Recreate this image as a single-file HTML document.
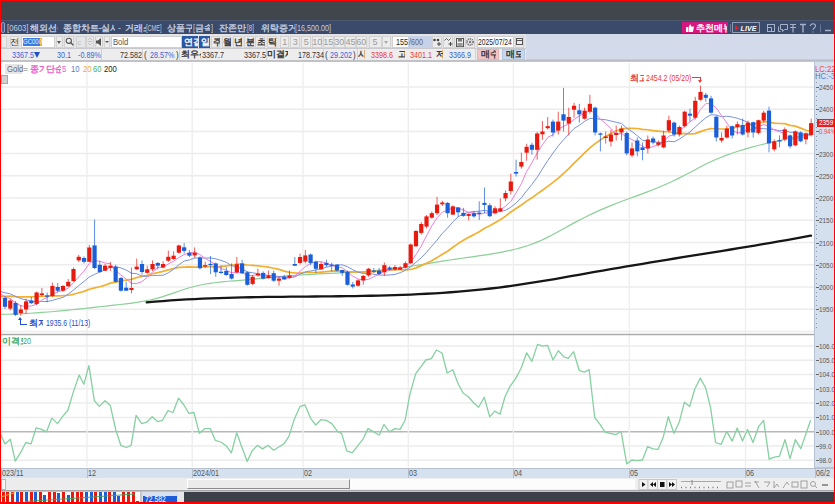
<!DOCTYPE html>
<html><head><meta charset="utf-8">
<style>
*{margin:0;padding:0;box-sizing:border-box}
html,body{width:835px;height:504px;overflow:hidden;background:#fff}
body{position:relative;font-family:"Liberation Sans",sans-serif;font-size:9px;color:#222}
.a{position:absolute}
.t{position:absolute;white-space:nowrap;line-height:1;transform-origin:0 0}
.k{position:absolute;white-space:nowrap;line-height:1;overflow:hidden;height:10px;-webkit-text-stroke:0.35px currentColor}
</style></head><body>
<div class="a" style="left:0px;top:0px;width:835px;height:20px;background:#41454c;"></div>
<div class="a" style="left:0px;top:20px;width:835px;height:14px;background:#3a4a6a;"></div>
<div class="a" style="left:0px;top:20px;width:835px;height:1px;background:#4c5872;"></div>
<div class="a" style="left:1px;top:22px;width:4px;height:11px;background:#4c5c84;border:1px solid #8ea4cc;border-radius:2px"></div>
<div class="t" style="left:6.5px;top:24px;font-size:9px;color:#c5cee0;transform:scaleX(0.85);">[0603]</div>
<div class="k" style="left:29.5px;top:23.5px;width:28.5px;font-size:9px;color:#c5cee0;">해외선물</div>
<div class="k" style="left:62.5px;top:23.5px;width:52px;font-size:9px;color:#c5cee0;">종합차트-실시간</div>
<div class="t" style="left:117.9px;top:24px;font-size:9px;color:#c5cee0;">-</div>
<div class="k" style="left:125px;top:23.5px;width:20.5px;font-size:9px;color:#c5cee0;">거래소</div>
<div class="t" style="left:145.5px;top:24px;font-size:9px;color:#c5cee0;transform:scaleX(0.62);">[CME]</div>
<div class="k" style="left:166.7px;top:23.5px;width:25.5px;font-size:9px;color:#c5cee0;">상품구분</div>
<div class="t" style="left:192.6px;top:24px;font-size:9px;color:#c5cee0;transform:scaleX(0.8);">[</div>
<div class="k" style="left:195px;top:23.5px;width:14.5px;font-size:9px;color:#c5cee0;">금속</div>
<div class="t" style="left:210.5px;top:24px;font-size:9px;color:#c5cee0;transform:scaleX(0.8);">]</div>
<div class="k" style="left:218.6px;top:23.5px;width:28.5px;font-size:9px;color:#c5cee0;">잔존만기</div>
<div class="t" style="left:247.4px;top:24px;font-size:9px;color:#c5cee0;transform:scaleX(0.7);">[8]</div>
<div class="k" style="left:261.4px;top:23.5px;width:33.5px;font-size:9px;color:#c5cee0;">위탁증거금</div>
<div class="t" style="left:294.9px;top:24px;font-size:9px;color:#c5cee0;transform:scaleX(0.8);">[16,500.00]</div>
<div class="a" style="left:682px;top:22px;width:46px;height:11px;background:#d6187e;"></div>
<svg class="a" style="left:686px;top:24px" width="8" height="8" viewBox="0 0 8 8"><path d="M0 3h2v5H0zM2.5 3.5L4 0.5c1 0 1.2 0.8 1 2H7.5c0.5 0 0.6 0.6 0.4 1L7 7.5c-0.2 0.4-0.5 0.5-1 0.5H2.5z" fill="#fff"/></svg>
<div class="k" style="left:696px;top:23.5px;width:31px;font-size:8.5px;color:#fff;">추천메뉴</div>
<div class="a" style="left:729.5px;top:24px;width:1px;height:8px;background:#6a7898;"></div>
<div class="a" style="left:732px;top:22px;width:28px;height:10.5px;background:transparent;border:1px solid #8e9ab2"></div>
<div class="a" style="left:735px;top:24.5px;width:0;height:0;border-left:4px solid #e82020;border-top:3px solid transparent;border-bottom:3px solid transparent"></div>
<div class="t" style="left:740.5px;top:24.6px;font-size:7px;color:#fff;font-weight:bold;font-style:italic;letter-spacing:0.1px">LIVE</div>
<svg class="a" style="left:765px;top:22px" width="70" height="12" viewBox="0 0 70 12"><rect x="2.5" y="2.5" width="7" height="7" fill="none" stroke="#a6b0c6"/><path d="M2.5 5.5h4v4" fill="none" stroke="#a6b0c6"/><path d="M15.5 2.5h7v5h-3l-2 2v-2h-2z" fill="none" stroke="#a6b0c6"/><path d="M13.5 4.5v5h2" fill="none" stroke="#a6b0c6"/><path d="M25 2.5h6M25 5.5h6M28 2.5v8" stroke="#a6b0c6" stroke-width="1.2"/><path d="M35 2.5h6M38 2.5v8" stroke="#a6b0c6" stroke-width="1.4"/><path d="M45.5 4c0-3 5-3 5 0c0 2-2.5 2-2.5 4M48 9.5v1" fill="none" stroke="#a6b0c6" stroke-width="1.1"/><path d="M55.5 2.5v8" stroke="#6a7898"/><path d="M60 8.5h6" stroke="#a6b0c6" stroke-width="1.5"/></svg>
<div class="a" style="left:0px;top:34.3px;width:835px;height:28px;background:#e4e4e7;"></div>
<div class="a" style="left:525.5px;top:34.3px;width:309.5px;height:28px;background:#d3daea;"></div>
<div class="a" style="left:0px;top:47.5px;width:525.5px;height:1.8px;background:#c9c9cd;"></div>
<div class="a" style="left:0px;top:60px;width:835px;height:2.5px;background:#c2c2c6;"></div>
<div class="a" style="left:525px;top:59px;width:310px;height:1px;background:#c8ccd5;"></div>
<div class="a" style="left:525px;top:60px;width:310px;height:1px;background:#b6bbc6;"></div>
<div class="a" style="left:525px;top:61px;width:310px;height:1px;background:#c4c8d0;"></div>
<div class="a" style="left:1px;top:35.5px;width:5.5px;height:12px;background:#ececec;border:1px solid #d2d2d2"></div>
<div class="a" style="left:10px;top:35.5px;width:9px;height:12px;background:#ececec;border:1px solid #d2d2d2"></div>
<div class="t" style="left:10px;top:37.5px;width:9px;font-size:8.5px;color:#333;text-align:center">전</div>
<div class="a" style="left:21px;top:35.5px;width:33.5px;height:12px;background:#fff;border:1px solid #cfcfcf"></div>
<div class="a" style="left:22.5px;top:38px;width:17.5px;height:7.5px;background:#3a7be0;"></div>
<div class="a" style="left:40px;top:38px;width:1.5px;height:7.5px;background:#f0b020;"></div>
<div class="t" style="left:23px;top:38px;font-size:7.5px;color:#e8f0ff;transform:scaleX(0.8);">GC000</div>
<div class="a" style="left:55.5px;top:35.5px;width:7.5px;height:12px;background:#ececec;border:1px solid #d2d2d2"></div>
<div class="a" style="left:57px;top:40.5px;width:0;height:0;border-top:3px solid #555;border-left:2.25px solid transparent;border-right:2.25px solid transparent"></div>
<div class="a" style="left:64px;top:35.5px;width:10px;height:12px;background:#ececec;border:1px solid #d2d2d2"></div>
<svg class="a" style="left:65px;top:37px" width="9" height="9" viewBox="0 0 9 9"><circle cx="3.8" cy="3.8" r="2.6" fill="none" stroke="#555" stroke-width="1.1"/><path d="M5.6 5.6L8.3 8.3" stroke="#555" stroke-width="1.4"/></svg>
<div class="a" style="left:75.5px;top:35.5px;width:10px;height:12px;background:#e6e6e6;border:1px solid #d2d2d2"></div>
<div class="t" style="left:77.5px;top:38.5px;font-size:7px;color:#bbb;">c</div>
<div class="a" style="left:86px;top:35.5px;width:8px;height:12px;background:#e6e6e6;border:1px solid #d2d2d2"></div>
<svg class="a" style="left:87px;top:37px" width="6" height="9" viewBox="0 0 6 9"><path d="M1 3l2-2 2 2M1 6l2 2 2-2M0.5 4.5h5" fill="none" stroke="#bbb" stroke-width="0.8"/></svg>
<div class="a" style="left:94.5px;top:35.5px;width:8.5px;height:12px;background:#ececec;border:1px solid #d2d2d2"></div>
<svg class="a" style="left:95.5px;top:37.5px" width="7" height="8" viewBox="0 0 7 8"><path d="M0 2.5h2l3-2.5v8l-3-2.5H0z" fill="#555"/></svg>
<div class="a" style="left:104px;top:35.5px;width:6px;height:12px;background:#ececec;border:1px solid #d2d2d2"></div>
<div class="a" style="left:105px;top:40.5px;width:0;height:0;border-top:2.5px solid #555;border-left:2.0px solid transparent;border-right:2.0px solid transparent"></div>
<div class="a" style="left:110.5px;top:35.5px;width:71px;height:12px;background:#fff;border:1px solid #cfcfcf"></div>
<div class="t" style="left:112.5px;top:38px;font-size:8.5px;color:#555;transform:scaleX(0.9);">Bold</div>
<div class="a" style="left:181.8px;top:35.5px;width:16.5px;height:12px;background:#2b56a3;"></div>
<div class="k" style="left:183.5px;top:37.5px;width:14px;font-size:8.5px;color:#fff;">연결</div>
<div class="a" style="left:199px;top:35.5px;width:11.3px;height:12px;background:#2b56a3;"></div>
<div class="k" style="left:200.5px;top:37.5px;width:9px;font-size:8.5px;color:#fff;">일</div>
<div class="a" style="left:211.3px;top:35.5px;width:9px;height:12px;background:#ececec;border:1px solid #d2d2d2"></div>
<div class="k" style="left:212.8px;top:37.5px;width:7px;font-size:8.5px;color:#333;">주</div>
<div class="a" style="left:221.5px;top:35.5px;width:9.5px;height:12px;background:#ececec;border:1px solid #d2d2d2"></div>
<div class="k" style="left:223px;top:37.5px;width:7.5px;font-size:8.5px;color:#333;">월</div>
<div class="a" style="left:232.9px;top:35.5px;width:9.5px;height:12px;background:#ececec;border:1px solid #d2d2d2"></div>
<div class="k" style="left:234.4px;top:37.5px;width:7.5px;font-size:8.5px;color:#333;">년</div>
<div class="a" style="left:244.4px;top:35.5px;width:10px;height:12px;background:#ececec;border:1px solid #d2d2d2"></div>
<div class="k" style="left:245.9px;top:37.5px;width:8px;font-size:8.5px;color:#333;">분</div>
<div class="a" style="left:255.2px;top:35.5px;width:10px;height:12px;background:#ececec;border:1px solid #d2d2d2"></div>
<div class="k" style="left:256.7px;top:37.5px;width:8px;font-size:8.5px;color:#333;">초</div>
<div class="a" style="left:266.7px;top:35.5px;width:10px;height:12px;background:#ececec;border:1px solid #d2d2d2"></div>
<div class="k" style="left:268.2px;top:37.5px;width:8px;font-size:8.5px;color:#333;">틱</div>
<div class="a" style="left:280px;top:35.5px;width:9.3px;height:12px;background:#ececec;border:1px solid #d2d2d2"></div>
<div class="t" style="left:280px;top:37.5px;width:9.3px;font-size:9px;color:#9a9a9a;text-align:center">1</div>
<div class="a" style="left:290.4px;top:35.5px;width:9.5px;height:12px;background:#ececec;border:1px solid #d2d2d2"></div>
<div class="t" style="left:290.4px;top:37.5px;width:9.5px;font-size:9px;color:#9a9a9a;text-align:center">3</div>
<div class="a" style="left:301.2px;top:35.5px;width:10px;height:12px;background:#ececec;border:1px solid #d2d2d2"></div>
<div class="t" style="left:301.2px;top:37.5px;width:10px;font-size:9px;color:#9a9a9a;text-align:center">5</div>
<div class="a" style="left:312.2px;top:35.5px;width:10.3px;height:12px;background:#ececec;border:1px solid #d2d2d2"></div>
<div class="t" style="left:312.2px;top:37.5px;width:10.3px;font-size:9px;color:#9a9a9a;text-align:center">10</div>
<div class="a" style="left:323px;top:35.5px;width:10.5px;height:12px;background:#ececec;border:1px solid #d2d2d2"></div>
<div class="t" style="left:323px;top:37.5px;width:10.5px;font-size:9px;color:#9a9a9a;text-align:center">15</div>
<div class="a" style="left:334px;top:35.5px;width:10.5px;height:12px;background:#ececec;border:1px solid #d2d2d2"></div>
<div class="t" style="left:334px;top:37.5px;width:10.5px;font-size:9px;color:#9a9a9a;text-align:center">30</div>
<div class="a" style="left:345.4px;top:35.5px;width:10.3px;height:12px;background:#ececec;border:1px solid #d2d2d2"></div>
<div class="t" style="left:345.4px;top:37.5px;width:10.3px;font-size:9px;color:#9a9a9a;text-align:center">45</div>
<div class="a" style="left:356px;top:35.5px;width:10.5px;height:12px;background:#ececec;border:1px solid #d2d2d2"></div>
<div class="t" style="left:356px;top:37.5px;width:10.5px;font-size:9px;color:#9a9a9a;text-align:center">60</div>
<div class="a" style="left:368.5px;top:35.5px;width:13px;height:12px;background:#ececec;border:1px solid #d2d2d2"></div>
<div class="t" style="left:368.5px;top:37.5px;width:13px;font-size:9px;color:#9a9a9a;text-align:center">5</div>
<div class="a" style="left:382px;top:35.5px;width:8.5px;height:12px;background:#ececec;border:1px solid #d2d2d2"></div>
<div class="a" style="left:384px;top:40.5px;width:0;height:0;border-top:3px solid #aaa;border-left:2.25px solid transparent;border-right:2.25px solid transparent"></div>
<div class="a" style="left:391.5px;top:35.5px;width:17px;height:12px;background:#fff;border:1px solid #cfcfcf"></div>
<div class="t" style="left:396px;top:37.6px;font-size:9px;color:#222;transform:scaleX(0.8);">155</div>
<div class="a" style="left:408.3px;top:35.5px;width:23.3px;height:12px;background:#c6d2e8;"></div>
<div class="t" style="left:409px;top:37.6px;font-size:9px;color:#666;transform:scaleX(0.8);">/600</div>
<div class="a" style="left:432px;top:35.5px;width:9.5px;height:12px;background:#ececec;border:1px solid #d2d2d2"></div>
<svg class="a" style="left:433px;top:37px" width="8" height="9" viewBox="0 0 8 9"><circle cx="1.5" cy="3" r="1.3" fill="#444"/><circle cx="5" cy="3" r="1.3" fill="#444"/><path d="M6 5v4M4 7h4" stroke="#444" stroke-width="1"/></svg>
<div class="a" style="left:442.7px;top:35.5px;width:10px;height:12px;background:#ececec;border:1px solid #d2d2d2"></div>
<svg class="a" style="left:443.5px;top:37px" width="9" height="9" viewBox="0 0 9 9"><path d="M0.5 3.5l2-2 2 2 2-2" fill="none" stroke="#555" stroke-width="0.9"/><path d="M6.5 5v4M4.5 7h4" stroke="#444" stroke-width="1"/></svg>
<div class="a" style="left:454px;top:35.5px;width:10px;height:12px;background:#ececec;border:1px solid #d2d2d2"></div>
<svg class="a" style="left:455.5px;top:37.5px" width="8" height="9" viewBox="0 0 8 9"><rect x="0.5" y="0.5" width="7" height="8" fill="none" stroke="#555"/><rect x="2" y="0.5" width="4" height="3" fill="#777"/><rect x="1.5" y="5" width="5" height="3.5" fill="#999"/></svg>
<div class="a" style="left:465px;top:35.5px;width:10px;height:12px;background:#ececec;border:1px solid #d2d2d2"></div>
<svg class="a" style="left:466px;top:37.5px" width="8" height="8" viewBox="0 0 8 8"><circle cx="4" cy="4" r="3.1" fill="none" stroke="#777" stroke-width="1.8" stroke-dasharray="1.2 0.8"/><circle cx="4" cy="4" r="1.2" fill="#777"/></svg>
<div class="a" style="left:476.6px;top:35.5px;width:37.6px;height:12px;background:#fff;border:1px solid #cfcfcf"></div>
<div class="t" style="left:477.5px;top:37.6px;font-size:9px;color:#222;transform:scaleX(0.75);">2025/07/24</div>
<div class="a" style="left:514.6px;top:35.5px;width:9.5px;height:12px;background:#ececec;border:1px solid #d2d2d2"></div>
<svg class="a" style="left:516px;top:38px" width="7" height="7" viewBox="0 0 7 7"><rect x="0.5" y="0.5" width="6" height="6" fill="none" stroke="#555"/><path d="M0.5 2.5h6" stroke="#555"/></svg>
<div class="a" style="left:0px;top:49.3px;width:525.5px;height:10.7px;background:#ededee;"></div>
<div class="a" style="left:101.4px;top:49.3px;width:1px;height:10.7px;background:#d2d2d4;"></div>
<div class="a" style="left:142px;top:49.3px;width:1px;height:10.7px;background:#d2d2d4;"></div>
<div class="a" style="left:178.8px;top:49.3px;width:1px;height:10.7px;background:#d2d2d4;"></div>
<div class="a" style="left:266px;top:49.3px;width:1px;height:10.7px;background:#d2d2d4;"></div>
<div class="a" style="left:322.6px;top:49.3px;width:1px;height:10.7px;background:#d2d2d4;"></div>
<div class="a" style="left:356.7px;top:49.3px;width:1px;height:10.7px;background:#d2d2d4;"></div>
<div class="a" style="left:475px;top:49.3px;width:1px;height:10.7px;background:#d2d2d4;"></div>
<div class="t" style="left:11.5px;top:50.8px;font-size:9px;color:#3a64d2;transform:scaleX(0.8);">3367.5</div>
<div class="a" style="left:33.5px;top:52px;width:0;height:0;border-top:6px solid #2050c8;border-left:3px solid transparent;border-right:3px solid transparent"></div>
<div class="t" style="left:57px;top:50.8px;font-size:9px;color:#3a64d2;transform:scaleX(0.8);">30.1</div>
<div class="t" style="left:78.3px;top:50.8px;font-size:9px;color:#3a64d2;transform:scaleX(0.8);">-0.89%</div>
<div class="t" style="left:120px;top:50.8px;font-size:9px;color:#333;transform:scaleX(0.8);">72.582</div>
<div class="t" style="left:144px;top:50.8px;font-size:9px;color:#333;transform:scaleX(0.9);">(</div>
<div class="t" style="left:150.2px;top:50.8px;font-size:9px;color:#3a64d2;transform:scaleX(0.8);">28.57%</div>
<div class="t" style="left:175.5px;top:50.8px;font-size:9px;color:#333;transform:scaleX(0.9);">)</div>
<div class="k" style="left:180.5px;top:50.3px;width:20.5px;font-size:8.5px;color:#333;">최우선</div>
<div class="t" style="left:202px;top:50.8px;font-size:9px;color:#333;transform:scaleX(0.8);">3367.7</div>
<div class="t" style="left:243.7px;top:50.8px;font-size:9px;color:#333;transform:scaleX(0.8);">3367.5</div>
<div class="k" style="left:267.4px;top:50.3px;width:21px;font-size:8.5px;color:#333;">미결제</div>
<div class="t" style="left:297.6px;top:50.8px;font-size:9px;color:#333;transform:scaleX(0.8);">178.734</div>
<div class="t" style="left:324.5px;top:50.8px;font-size:9px;color:#333;transform:scaleX(0.9);">(</div>
<div class="t" style="left:330px;top:50.8px;font-size:9px;color:#3a64d2;transform:scaleX(0.8);">29.202</div>
<div class="t" style="left:352.5px;top:50.8px;font-size:9px;color:#333;transform:scaleX(0.9);">)</div>
<div class="k" style="left:358px;top:50.3px;width:7px;font-size:8.5px;color:#333;">시</div>
<div class="t" style="left:370.9px;top:50.8px;font-size:9px;color:#e83a3a;transform:scaleX(0.8);">3398.6</div>
<div class="k" style="left:397.5px;top:50.3px;width:7px;font-size:8.5px;color:#333;">고</div>
<div class="t" style="left:410.4px;top:50.8px;font-size:9px;color:#e83a3a;transform:scaleX(0.8);">3401.1</div>
<div class="k" style="left:436.3px;top:50.3px;width:7px;font-size:8.5px;color:#333;">저</div>
<div class="t" style="left:449.2px;top:50.8px;font-size:9px;color:#3a64d2;transform:scaleX(0.8);">3366.9</div>
<div class="a" style="left:477.3px;top:49.3px;width:22.2px;height:10.7px;background:#f3c4c4;border:1px solid #e6b4b4"></div>
<div class="k" style="left:481px;top:50.3px;width:15px;font-size:8.5px;color:#333;">매수</div>
<div class="a" style="left:501.7px;top:49.3px;width:23px;height:10.7px;background:#c5d7f1;border:1px solid #b2c6e2"></div>
<div class="k" style="left:505.5px;top:50.3px;width:15px;font-size:8.5px;color:#333;">매도</div>
<div class="a" style="left:0px;top:62px;width:814px;height:406px;background:#fff;"></div>
<div class="a" style="left:814px;top:62px;width:21px;height:406px;background:#d5e0ef;"></div>
<div class="a" style="left:814px;top:62px;width:1px;height:406px;background:#b6c2d4;"></div>
<svg class="a" style="left:0;top:0" width="835" height="504" viewBox="0 0 835 504"><path d="M1 86.9H814" stroke="#ececec" stroke-width="1.5"/><path d="M1 109.14H814" stroke="#ececec" stroke-width="1.5"/><path d="M1 131.38H814" stroke="#ececec" stroke-width="1.5"/><path d="M1 153.62H814" stroke="#ececec" stroke-width="1.5"/><path d="M1 175.86H814" stroke="#ececec" stroke-width="1.5"/><path d="M1 198.1H814" stroke="#ececec" stroke-width="1.5"/><path d="M1 220.34H814" stroke="#ececec" stroke-width="1.5"/><path d="M1 242.58H814" stroke="#ececec" stroke-width="1.5"/><path d="M1 264.82H814" stroke="#ececec" stroke-width="1.5"/><path d="M1 287.06H814" stroke="#ececec" stroke-width="1.5"/><path d="M1 309.3H814" stroke="#ececec" stroke-width="1.5"/><path d="M1 331.54H814" stroke="#ececec" stroke-width="1.5"/><path d="M1 460.3H814" stroke="#ececec" stroke-width="1.5"/><path d="M1 446H814" stroke="#ececec" stroke-width="1.5"/><path d="M1 431.7H814" stroke="#b8b8b8" stroke-width="1.6"/><path d="M1 417.4H814" stroke="#ececec" stroke-width="1.5"/><path d="M1 403.1H814" stroke="#ececec" stroke-width="1.5"/><path d="M1 388.8H814" stroke="#ececec" stroke-width="1.5"/><path d="M1 374.5H814" stroke="#ececec" stroke-width="1.5"/><path d="M1 360.2H814" stroke="#ececec" stroke-width="1.5"/><path d="M1 345.9H814" stroke="#ececec" stroke-width="1.5"/><path d="M86.95 63V467" stroke="#eeeeee" stroke-width="1.4"/><path d="M192.2 63V467" stroke="#eeeeee" stroke-width="1.4"/><path d="M303 63V467" stroke="#eeeeee" stroke-width="1.4"/><path d="M408.3 63V467" stroke="#eeeeee" stroke-width="1.4"/><path d="M513.4 63V467" stroke="#eeeeee" stroke-width="1.4"/><path d="M629.4 63V467" stroke="#eeeeee" stroke-width="1.4"/><path d="M745.5 63V467" stroke="#eeeeee" stroke-width="1.4"/><path d="M1 334.5H814" stroke="#ababab" stroke-width="1.3"/><polyline points="0,314.35 6,314.26 12,314.1 18,313.88 24,313.61 30,313.27 36,312.89 42,312.46 48,311.99 54,311.48 60,310.94 66,310.36 72,309.76 78,309.14 84,308.5 90,307.84 96,307.17 102,306.5 108,305.82 114,305.15 120,304.48 126,303.79 132,303.04 138,302.18 144,301.18 150,300 156,298.57 162,296.88 168,294.94 174,292.87 180,290.78 186,288.79 192,287 198,285.51 204,284.28 210,283.29 216,282.48 222,281.82 228,281.27 234,280.78 240,280.31 246,279.82 252,279.28 258,278.72 264,278.14 270,277.56 276,276.98 282,276.42 288,275.9 294,275.43 300,275.01 306,274.63 312,274.29 318,273.97 324,273.67 330,273.38 336,273.09 342,272.8 348,272.48 354,272.15 360,271.77 366,271.36 372,270.89 378,270.36 384,269.77 390,269.09 396,268.34 402,267.53 408,266.65 414,265.74 420,264.79 426,263.83 432,262.85 438,261.88 444,260.93 450,260 456,259.11 462,258.25 468,257.41 474,256.56 480,255.69 486,254.79 492,253.82 498,252.79 504,251.66 510,250.42 516,249 522,247.39 528,245.53 534,243.39 540,240.93 546,238.13 552,235.05 558,231.8 564,228.46 570,225.12 576,221.87 582,218.74 588,215.74 594,212.88 600,210.16 606,207.58 612,205.13 618,202.79 624,200.52 630,198.29 636,196.09 642,193.86 648,191.59 654,189.25 660,186.8 666,184.22 672,181.48 678,178.59 684,175.57 690,172.44 696,169.25 702,166.09 708,163.06 714,160.26 720,157.7 726,155.36 732,153.2 738,151.2 744,149.35 750,147.63 756,146.03 762,144.53 768,143.11 774,141.75 780,140.44 786,139.16 792,137.9 798,136.64 804,135.36 810,134.04 811,133.82" fill="none" stroke="#8ccf98" stroke-width="1.2"/><polyline points="146.7,302.37 154.7,301.67 162.7,301.03 170.7,300.46 178.7,299.94 186.7,299.47 194.7,299.05 202.7,298.68 210.7,298.35 218.7,298.06 226.7,297.8 234.7,297.58 242.7,297.39 250.7,297.23 258.7,297.09 266.7,296.97 274.7,296.87 282.7,296.78 290.7,296.7 298.7,296.63 306.7,296.56 314.7,296.49 322.7,296.42 330.7,296.35 338.7,296.26 346.7,296.16 354.7,296.05 362.7,295.91 370.7,295.76 378.7,295.58 386.7,295.37 394.7,295.12 402.7,294.85 410.7,294.53 418.7,294.17 426.7,293.76 434.7,293.31 442.7,292.8 450.7,292.24 458.7,291.62 466.7,290.94 474.7,290.2 482.7,289.38 490.7,288.5 498.7,287.54 506.7,286.5 514.7,285.39 522.7,284.21 530.7,282.98 538.7,281.7 546.7,280.38 554.7,279.02 562.7,277.64 570.7,276.23 578.7,274.81 586.7,273.39 594.7,271.98 602.7,270.57 610.7,269.18 618.7,267.8 626.7,266.44 634.7,265.09 642.7,263.76 650.7,262.43 658.7,261.12 666.7,259.81 674.7,258.51 682.7,257.22 690.7,255.94 698.7,254.65 706.7,253.37 714.7,252.08 722.7,250.79 730.7,249.49 738.7,248.18 746.7,246.86 754.7,245.53 762.7,244.19 770.7,242.83 778.7,241.44 786.7,240.04 794.7,238.61 802.7,237.16 810.7,235.68 811,235.62" fill="none" stroke="#161616" stroke-width="2.3" stroke-linecap="round" stroke-linejoin="round"/><polyline points="-0.27,296.38 5,296.43 10.27,296.17 15.54,296.65 20.81,296.91 26.08,296.81 31.34,296.88 36.61,296.49 41.88,296.25 47.15,296.27 52.42,295.88 57.69,295.83 62.96,295.62 68.23,295.25 73.5,294.29 78.77,292.74 84.03,291.39 89.3,289.21 94.57,287.92 99.84,286.75 105.11,285.19 110.38,283.13 115.65,282.2 120.92,281 126.19,280.05 131.46,279.38 136.72,277.56 141.99,276.53 147.26,275.32 152.53,273.71 157.8,272.69 163.07,271.35 168.34,269.89 173.61,268.59 178.88,267.42 184.15,267.12 189.41,266.81 194.68,267.07 199.95,267.08 205.22,266.75 210.49,266.71 215.76,267.04 221.03,266.59 226.3,265.81 231.57,265.21 236.84,264.02 242.11,264.35 247.37,264.99 252.64,265.37 257.91,265.84 263.18,266.49 268.45,267.06 273.72,268.26 278.99,269.41 284.26,271.11 289.53,272.33 294.8,272.83 300.06,273.05 305.33,272.41 310.6,272.29 315.87,272.48 321.14,272.07 326.41,271.68 331.68,271.22 336.95,270.81 342.22,271.24 347.49,271.82 352.75,271.91 358.02,272.09 363.29,272.21 368.56,271.72 373.83,271.53 379.1,271.19 384.37,270.52 389.64,270.03 394.91,269.61 400.18,269.69 405.44,270 410.71,269.46 415.98,267.87 421.25,265.63 426.52,263.25 431.79,260.65 437.06,257.59 442.33,254.19 447.6,251.21 452.87,247.29 458.13,243.57 463.4,240.35 468.67,237.25 473.94,234.63 479.21,231.72 484.48,228.27 489.75,225.81 495.02,222.75 500.29,219.81 505.56,216.09 510.82,212.01 516.09,208.46 521.36,205.01 526.63,201.15 531.9,197.82 537.17,193.83 542.44,190.18 547.71,186.37 552.98,182.33 558.25,178.09 563.51,173.5 568.78,168.56 574.05,163.15 579.32,158.04 584.59,152.9 589.86,147.85 595.13,143.66 600.4,139.98 605.67,136.39 610.94,133.46 616.2,131.04 621.47,128.79 626.74,128.36 632.01,128.44 637.28,128.52 642.55,129.34 647.82,129.74 653.09,130.56 658.36,131.06 663.62,131.75 668.89,131.73 674.16,132.61 679.43,133.67 684.7,133.54 689.97,133.79 695.24,133.64 700.51,131.61 705.78,129.77 711.05,128.58 716.32,128.73 721.58,128.98 726.85,128.98 732.12,128.08 737.39,126.87 742.66,126.03 747.93,124.66 753.2,124.31 758.47,123.2 763.74,121.7 769,122.09 774.27,123.15 779.54,123.49 784.81,123.61 790.08,125.34 795.35,126.12 800.62,128.15 805.89,130.22 811.16,131.49" fill="none" stroke="#f2b030" stroke-width="1.7" stroke-linejoin="round"/><polyline points="-0.27,291.32 5,292.82 10.27,293.84 15.54,296.42 20.81,298.55 26.08,299.89 31.34,301.33 36.61,301.48 41.88,301.44 47.15,301.53 52.42,300.45 57.69,298.84 62.96,297.39 68.23,294.09 73.5,290.04 78.77,285.58 84.03,281.44 89.3,276.94 94.57,274.4 99.84,271.96 105.11,269.93 110.38,267.43 115.65,267.01 120.92,267.9 126.19,270.07 131.46,273.19 136.72,273.67 141.99,276.12 147.26,276.25 152.53,275.45 157.8,275.45 163.07,275.28 168.34,272.78 173.61,269.28 178.88,264.76 184.15,261.05 189.41,259.96 194.68,258.03 199.95,257.92 205.22,258.04 210.49,257.97 215.76,258.8 221.03,260.41 226.3,262.34 231.57,265.65 236.84,266.99 242.11,268.74 247.37,271.95 252.64,272.81 257.91,273.65 263.18,275.01 268.45,275.33 273.72,276.11 278.99,276.47 284.26,276.56 289.53,277.68 294.8,276.93 300.06,274.15 305.33,272.01 310.6,270.94 315.87,269.96 321.14,268.81 326.41,267.25 331.68,265.97 336.95,265.06 342.22,264.81 347.49,266.72 352.75,269.68 358.02,272.18 363.29,273.48 368.56,273.48 373.83,274.25 379.1,275.13 384.37,275.08 389.64,275 394.91,274.41 400.18,272.68 405.44,270.33 410.71,266.75 415.98,262.25 421.25,257.78 426.52,252.24 431.79,246.16 437.06,240.1 442.33,233.39 447.6,228.01 452.87,221.9 458.13,216.81 463.4,213.95 468.67,212.25 473.94,211.49 479.21,211.2 484.48,210.37 489.75,211.53 495.02,212.11 500.29,211.62 505.56,210.28 510.82,207.2 516.09,202.97 521.36,197.77 526.63,190.81 531.9,184.44 537.17,177.3 542.44,168.83 547.71,160.62 552.98,153.04 558.25,145.9 563.51,139.81 568.78,134.15 574.05,128.53 579.32,125.28 584.59,121.37 589.86,118.4 595.13,118.5 600.4,119.33 605.67,119.73 610.94,121.03 616.2,122.27 621.47,123.42 626.74,128.19 632.01,131.6 637.28,135.67 642.55,140.29 647.82,140.99 653.09,141.78 658.36,142.38 663.62,142.48 668.89,141.2 674.16,141.79 679.43,139.15 684.7,135.48 689.97,131.91 695.24,126.99 700.51,122.23 705.78,117.76 711.05,114.78 716.32,114.98 721.58,116.76 726.85,116.17 732.12,117.02 737.39,118.27 742.66,120.15 747.93,122.33 753.2,126.39 758.47,128.63 763.74,128.63 769,129.21 774.27,129.54 779.54,130.81 784.81,130.2 790.08,132.41 795.35,132.1 800.62,133.97 805.89,134.06 811.16,134.35" fill="none" stroke="#7a92e0" stroke-width="1" stroke-linejoin="round"/><polyline points="-0.27,293.18 5,296.78 10.27,298.68 15.54,302.88 20.81,305.68 26.08,306.6 31.34,305.88 36.61,304.28 41.88,300 47.15,297.38 52.42,294.3 57.69,291.8 62.96,290.5 68.23,288.18 73.5,282.7 78.77,276.86 84.03,271.08 89.3,263.38 94.57,260.62 99.84,261.22 105.11,263 110.38,263.78 115.65,270.64 120.92,275.18 126.19,278.92 131.46,283.38 136.72,283.56 141.99,281.6 147.26,277.32 152.53,271.98 157.8,267.52 163.07,267 168.34,263.96 173.61,261.24 178.88,257.54 184.15,254.58 189.41,252.92 194.68,252.1 199.95,254.6 205.22,258.54 210.49,261.36 215.76,264.68 221.03,268.72 226.3,270.08 231.57,272.76 236.84,272.62 242.11,272.8 247.37,275.18 252.64,275.54 257.91,274.54 263.18,277.4 268.45,277.86 273.72,277.04 278.99,277.4 284.26,278.58 289.53,277.96 294.8,276 300.06,271.26 305.33,266.62 310.6,263.3 315.87,261.95 321.14,261.61 326.41,263.25 331.68,265.31 336.95,266.83 342.22,267.66 347.49,271.82 352.75,276.1 358.02,279.04 363.29,280.12 368.56,279.29 373.83,276.69 379.1,274.17 384.37,271.13 389.64,269.87 394.91,269.52 400.18,268.66 405.44,266.5 410.71,262.36 415.98,254.64 421.25,246.04 426.52,235.82 431.79,225.82 437.06,217.84 442.33,212.14 447.6,209.98 452.87,207.98 458.13,207.8 463.4,210.06 468.67,212.36 473.94,213 479.21,214.42 484.48,212.94 489.75,213 495.02,211.86 500.29,210.24 505.56,206.14 510.82,201.46 516.09,192.94 521.36,183.68 526.63,171.38 531.9,162.74 537.17,153.14 542.44,144.72 547.71,137.56 552.98,134.7 558.25,129.06 563.51,126.48 568.78,123.58 574.05,119.49 579.32,115.85 584.59,113.67 589.86,110.31 595.13,113.41 600.4,119.18 605.67,123.62 610.94,128.38 616.2,134.22 621.47,133.44 626.74,137.2 632.01,139.58 637.28,142.96 642.55,146.36 647.82,148.54 653.09,146.36 658.36,145.18 663.62,142 668.89,136.04 674.16,135.04 679.43,131.94 684.7,125.78 689.97,121.82 695.24,117.94 700.51,109.42 705.78,103.58 711.05,103.78 716.32,108.14 721.58,115.58 726.85,122.92 732.12,130.46 737.39,132.76 742.66,132.16 747.93,129.08 753.2,129.86 758.47,126.8 763.74,124.5 769,126.26 774.27,130 779.54,131.76 784.81,133.6 790.08,140.32 795.35,137.94 800.62,137.94 805.89,136.36 811.16,135.1" fill="none" stroke="#f07ed8" stroke-width="1" stroke-linejoin="round"/><path d="M5 296V309" stroke="#1a5fd8" stroke-width="1" stroke-opacity="0.7"/><rect x="2.9" y="297.9" width="4.2" height="8.9" fill="#1a5fd8"/><path d="M10.27 298.8V310.4" stroke="#e8190f" stroke-width="1" stroke-opacity="0.7"/><rect x="8.17" y="300.5" width="4.2" height="8.1" fill="#e8190f"/><path d="M15.54 301V316" stroke="#1a5fd8" stroke-width="1" stroke-opacity="0.7"/><rect x="13.44" y="302.9" width="4.2" height="11.9" fill="#1a5fd8"/><path d="M20.81 305V315.7" stroke="#e8190f" stroke-width="1" stroke-opacity="0.7"/><rect x="18.71" y="309.5" width="4.2" height="3.5" fill="#e8190f"/><path d="M26.08 298.8V313.9" stroke="#e8190f" stroke-width="1" stroke-opacity="0.7"/><rect x="23.98" y="301.4" width="4.2" height="8.1" fill="#e8190f"/><path d="M31.34 297V304" stroke="#1a5fd8" stroke-width="1" stroke-opacity="0.7"/><rect x="29.24" y="300.5" width="4.2" height="2.7" fill="#1a5fd8"/><path d="M36.61 291.6V305" stroke="#e8190f" stroke-width="1" stroke-opacity="0.7"/><rect x="34.51" y="292.5" width="4.2" height="11.5" fill="#e8190f"/><path d="M41.88 288V296.4" stroke="#e8190f" stroke-width="1" stroke-opacity="0.7"/><rect x="39.78" y="293.4" width="4.2" height="1.6" fill="#e8190f"/><path d="M47.15 292.5V302.3" stroke="#1a5fd8" stroke-width="1" stroke-opacity="0.7"/><rect x="45.05" y="295.4" width="4.2" height="1.3" fill="#1a5fd8"/><path d="M52.42 282.7V297" stroke="#e8190f" stroke-width="1" stroke-opacity="0.7"/><rect x="50.32" y="286" width="4.2" height="10" fill="#e8190f"/><path d="M57.69 283V292.5" stroke="#1a5fd8" stroke-width="1" stroke-opacity="0.7"/><rect x="55.59" y="287" width="4.2" height="3.7" fill="#1a5fd8"/><path d="M62.96 285V292" stroke="#e8190f" stroke-width="1" stroke-opacity="0.7"/><rect x="60.86" y="286" width="4.2" height="4.7" fill="#e8190f"/><path d="M68.23 279V287" stroke="#e8190f" stroke-width="1" stroke-opacity="0.7"/><rect x="66.13" y="281.8" width="4.2" height="4.4" fill="#e8190f"/><path d="M73.5 267.5V281.8" stroke="#e8190f" stroke-width="1" stroke-opacity="0.7"/><rect x="71.4" y="269" width="4.2" height="12" fill="#e8190f"/><path d="M78.77 255V262" stroke="#e8190f" stroke-width="1" stroke-opacity="0.7"/><rect x="76.67" y="256.8" width="4.2" height="3.6" fill="#e8190f"/><path d="M84.03 256.4V263.6" stroke="#1a5fd8" stroke-width="1" stroke-opacity="0.7"/><rect x="81.94" y="258" width="4.2" height="3.8" fill="#1a5fd8"/><path d="M89.3 244.8V262" stroke="#e8190f" stroke-width="1" stroke-opacity="0.7"/><rect x="87.2" y="247.5" width="4.2" height="14.3" fill="#e8190f"/><path d="M94.57 219.5V269" stroke="#1a5fd8" stroke-width="1" stroke-opacity="0.7"/><rect x="92.47" y="245.4" width="4.2" height="22.6" fill="#1a5fd8"/><path d="M99.84 261V273" stroke="#1a5fd8" stroke-width="1" stroke-opacity="0.7"/><rect x="97.74" y="264.8" width="4.2" height="7.2" fill="#1a5fd8"/><path d="M105.11 264V271" stroke="#e8190f" stroke-width="1" stroke-opacity="0.7"/><rect x="103.01" y="265.7" width="4.2" height="5" fill="#e8190f"/><path d="M110.38 262V271" stroke="#e8190f" stroke-width="1" stroke-opacity="0.7"/><rect x="108.28" y="265.7" width="4.2" height="2.1" fill="#e8190f"/><path d="M115.65 264.8V282.7" stroke="#1a5fd8" stroke-width="1" stroke-opacity="0.7"/><rect x="113.55" y="266.6" width="4.2" height="15.2" fill="#1a5fd8"/><path d="M120.92 277V291.6" stroke="#1a5fd8" stroke-width="1" stroke-opacity="0.7"/><rect x="118.82" y="278" width="4.2" height="12.7" fill="#1a5fd8"/><path d="M126.19 281.8V290.7" stroke="#1a5fd8" stroke-width="1" stroke-opacity="0.7"/><rect x="124.09" y="287.7" width="4.2" height="3" fill="#1a5fd8"/><path d="M131.46 267.5V293.4" stroke="#e8190f" stroke-width="1" stroke-opacity="0.7"/><rect x="129.36" y="288" width="4.2" height="2" fill="#e8190f"/><path d="M136.72 258.6V270" stroke="#e8190f" stroke-width="1" stroke-opacity="0.7"/><rect x="134.62" y="266.6" width="4.2" height="2.7" fill="#e8190f"/><path d="M141.99 260.4V274.6" stroke="#1a5fd8" stroke-width="1" stroke-opacity="0.7"/><rect x="139.89" y="264" width="4.2" height="8" fill="#1a5fd8"/><path d="M147.26 265.7V273.75" stroke="#e8190f" stroke-width="1" stroke-opacity="0.7"/><rect x="145.16" y="269.3" width="4.2" height="3.5" fill="#e8190f"/><path d="M152.53 260.4V271" stroke="#e8190f" stroke-width="1" stroke-opacity="0.7"/><rect x="150.43" y="264" width="4.2" height="5.3" fill="#e8190f"/><path d="M157.8 262V269.3" stroke="#1a5fd8" stroke-width="1" stroke-opacity="0.7"/><rect x="155.7" y="263" width="4.2" height="2.7" fill="#1a5fd8"/><path d="M163.07 261.25V268.4" stroke="#e8190f" stroke-width="1" stroke-opacity="0.7"/><rect x="160.97" y="264" width="4.2" height="3.5" fill="#e8190f"/><path d="M168.34 250.5V262" stroke="#e8190f" stroke-width="1" stroke-opacity="0.7"/><rect x="166.24" y="256.8" width="4.2" height="3.9" fill="#e8190f"/><path d="M173.61 251.4V259.8" stroke="#e8190f" stroke-width="1" stroke-opacity="0.7"/><rect x="171.51" y="255.7" width="4.2" height="3.3" fill="#e8190f"/><path d="M178.88 244.6V253.6" stroke="#e8190f" stroke-width="1" stroke-opacity="0.7"/><rect x="176.78" y="245.5" width="4.2" height="7.2" fill="#e8190f"/><path d="M184.15 242.9V253.6" stroke="#1a5fd8" stroke-width="1" stroke-opacity="0.7"/><rect x="182.05" y="247.3" width="4.2" height="3.6" fill="#1a5fd8"/><path d="M189.41 250V257" stroke="#1a5fd8" stroke-width="1" stroke-opacity="0.7"/><rect x="187.31" y="252.7" width="4.2" height="3" fill="#1a5fd8"/><path d="M194.68 247.3V258" stroke="#e8190f" stroke-width="1" stroke-opacity="0.7"/><rect x="192.58" y="252.7" width="4.2" height="2.7" fill="#e8190f"/><path d="M199.95 256.25V269.6" stroke="#1a5fd8" stroke-width="1" stroke-opacity="0.7"/><rect x="197.85" y="257.5" width="4.2" height="10.7" fill="#1a5fd8"/><path d="M205.22 261.6V267.9" stroke="#e8190f" stroke-width="1" stroke-opacity="0.7"/><rect x="203.12" y="265.15" width="4.2" height="1.3" fill="#e8190f"/><path d="M210.49 256V274" stroke="#1a5fd8" stroke-width="1" stroke-opacity="0.7"/><rect x="208.39" y="263.85" width="4.2" height="1.3" fill="#1a5fd8"/><path d="M215.76 262.5V276.8" stroke="#1a5fd8" stroke-width="1" stroke-opacity="0.7"/><rect x="213.66" y="263.4" width="4.2" height="8.9" fill="#1a5fd8"/><path d="M221.03 265.2V274" stroke="#1a5fd8" stroke-width="1" stroke-opacity="0.7"/><rect x="218.93" y="271.7" width="4.2" height="1.3" fill="#1a5fd8"/><path d="M226.3 267V275.9" stroke="#1a5fd8" stroke-width="1" stroke-opacity="0.7"/><rect x="224.2" y="271" width="4.2" height="4" fill="#1a5fd8"/><path d="M231.57 263.4V279.5" stroke="#1a5fd8" stroke-width="1" stroke-opacity="0.7"/><rect x="229.47" y="274" width="4.2" height="4.6" fill="#1a5fd8"/><path d="M236.84 257V273.2" stroke="#e8190f" stroke-width="1" stroke-opacity="0.7"/><rect x="234.74" y="264.3" width="4.2" height="8" fill="#e8190f"/><path d="M242.11 259.8V274" stroke="#1a5fd8" stroke-width="1" stroke-opacity="0.7"/><rect x="240.01" y="263.4" width="4.2" height="9.8" fill="#1a5fd8"/><path d="M247.37 271.4V285.7" stroke="#1a5fd8" stroke-width="1" stroke-opacity="0.7"/><rect x="245.27" y="272.3" width="4.2" height="12.5" fill="#1a5fd8"/><path d="M252.64 275V285" stroke="#e8190f" stroke-width="1" stroke-opacity="0.7"/><rect x="250.54" y="276.8" width="4.2" height="7.1" fill="#e8190f"/><path d="M257.91 268.75V276.8" stroke="#e8190f" stroke-width="1" stroke-opacity="0.7"/><rect x="255.81" y="273.6" width="4.2" height="1.8" fill="#e8190f"/><path d="M263.18 271.4V279.5" stroke="#1a5fd8" stroke-width="1" stroke-opacity="0.7"/><rect x="261.08" y="272.9" width="4.2" height="5.7" fill="#1a5fd8"/><path d="M268.45 270.5V278.6" stroke="#e8190f" stroke-width="1" stroke-opacity="0.7"/><rect x="266.35" y="275.5" width="4.2" height="2.5" fill="#e8190f"/><path d="M273.72 270.5V282" stroke="#1a5fd8" stroke-width="1" stroke-opacity="0.7"/><rect x="271.62" y="273.2" width="4.2" height="7.5" fill="#1a5fd8"/><path d="M278.99 276.8V285.7" stroke="#e8190f" stroke-width="1" stroke-opacity="0.7"/><rect x="276.89" y="278.6" width="4.2" height="2.1" fill="#e8190f"/><path d="M284.26 275V279.5" stroke="#1a5fd8" stroke-width="1" stroke-opacity="0.7"/><rect x="282.16" y="276.8" width="4.2" height="2.7" fill="#1a5fd8"/><path d="M289.53 270.5V278.6" stroke="#e8190f" stroke-width="1" stroke-opacity="0.7"/><rect x="287.43" y="275.5" width="4.2" height="2.2" fill="#e8190f"/><path d="M294.8 257V266" stroke="#1a5fd8" stroke-width="1" stroke-opacity="0.7"/><rect x="292.69" y="264" width="4.2" height="1.7" fill="#1a5fd8"/><path d="M300.06 253.6V264.3" stroke="#e8190f" stroke-width="1" stroke-opacity="0.7"/><rect x="297.96" y="257" width="4.2" height="5.9" fill="#e8190f"/><path d="M305.33 250V263.4" stroke="#e8190f" stroke-width="1" stroke-opacity="0.7"/><rect x="303.23" y="255.4" width="4.2" height="6.2" fill="#e8190f"/><path d="M310.6 253.6V265.2" stroke="#1a5fd8" stroke-width="1" stroke-opacity="0.7"/><rect x="308.5" y="254.5" width="4.2" height="8.4" fill="#1a5fd8"/><path d="M315.87 260.7V273.2" stroke="#1a5fd8" stroke-width="1" stroke-opacity="0.7"/><rect x="313.77" y="261.6" width="4.2" height="7.15" fill="#1a5fd8"/><path d="M321.14 262V270" stroke="#e8190f" stroke-width="1" stroke-opacity="0.7"/><rect x="319.04" y="264" width="4.2" height="5.3" fill="#e8190f"/><path d="M326.41 259.8V267" stroke="#1a5fd8" stroke-width="1" stroke-opacity="0.7"/><rect x="324.31" y="262.9" width="4.2" height="2.3" fill="#1a5fd8"/><path d="M331.68 262.5V271.4" stroke="#1a5fd8" stroke-width="1" stroke-opacity="0.7"/><rect x="329.58" y="264.5" width="4.2" height="1.3" fill="#1a5fd8"/><path d="M336.95 264.3V271.4" stroke="#1a5fd8" stroke-width="1" stroke-opacity="0.7"/><rect x="334.85" y="264.6" width="4.2" height="5.9" fill="#1a5fd8"/><path d="M342.22 269.6V275.9" stroke="#1a5fd8" stroke-width="1" stroke-opacity="0.7"/><rect x="340.12" y="270" width="4.2" height="2.9" fill="#1a5fd8"/><path d="M347.49 270.5V285.7" stroke="#1a5fd8" stroke-width="1" stroke-opacity="0.7"/><rect x="345.38" y="271.8" width="4.2" height="13" fill="#1a5fd8"/><path d="M352.75 282V288.4" stroke="#1a5fd8" stroke-width="1" stroke-opacity="0.7"/><rect x="350.65" y="284.5" width="4.2" height="2.1" fill="#1a5fd8"/><path d="M358.02 279.5V286.6" stroke="#e8190f" stroke-width="1" stroke-opacity="0.7"/><rect x="355.92" y="280.4" width="4.2" height="5.3" fill="#e8190f"/><path d="M363.29 275V284.8" stroke="#e8190f" stroke-width="1" stroke-opacity="0.7"/><rect x="361.19" y="275.9" width="4.2" height="4.5" fill="#e8190f"/><path d="M368.56 267.9V276.8" stroke="#e8190f" stroke-width="1" stroke-opacity="0.7"/><rect x="366.46" y="268.75" width="4.2" height="6.65" fill="#e8190f"/><path d="M373.83 267.9V273.2" stroke="#1a5fd8" stroke-width="1" stroke-opacity="0.7"/><rect x="371.73" y="270.5" width="4.2" height="1.3" fill="#1a5fd8"/><path d="M379.1 267.9V275" stroke="#1a5fd8" stroke-width="1" stroke-opacity="0.7"/><rect x="377" y="270.5" width="4.2" height="3.5" fill="#1a5fd8"/><path d="M384.37 262.5V275.9" stroke="#e8190f" stroke-width="1" stroke-opacity="0.7"/><rect x="382.27" y="265.2" width="4.2" height="7.1" fill="#e8190f"/><path d="M389.64 266V270.5" stroke="#1a5fd8" stroke-width="1" stroke-opacity="0.7"/><rect x="387.54" y="267.5" width="4.2" height="2.1" fill="#1a5fd8"/><path d="M394.91 265.2V270.5" stroke="#e8190f" stroke-width="1" stroke-opacity="0.7"/><rect x="392.81" y="267" width="4.2" height="2.6" fill="#e8190f"/><path d="M400.18 266V270" stroke="#e8190f" stroke-width="1" stroke-opacity="0.7"/><rect x="398.07" y="267.5" width="4.2" height="2.1" fill="#e8190f"/><path d="M405.44 261.4V268.6" stroke="#e8190f" stroke-width="1" stroke-opacity="0.7"/><rect x="403.34" y="263.2" width="4.2" height="4.5" fill="#e8190f"/><path d="M410.71 243.6V264" stroke="#e8190f" stroke-width="1" stroke-opacity="0.7"/><rect x="408.61" y="244.5" width="4.2" height="18.7" fill="#e8190f"/><path d="M415.98 230V247" stroke="#e8190f" stroke-width="1" stroke-opacity="0.7"/><rect x="413.88" y="231" width="4.2" height="15.25" fill="#e8190f"/><path d="M421.25 222V234.6" stroke="#e8190f" stroke-width="1" stroke-opacity="0.7"/><rect x="419.15" y="224" width="4.2" height="8.9" fill="#e8190f"/><path d="M426.52 215V228.4" stroke="#e8190f" stroke-width="1" stroke-opacity="0.7"/><rect x="424.42" y="216.4" width="4.2" height="10.2" fill="#e8190f"/><path d="M431.79 211.4V218.6" stroke="#e8190f" stroke-width="1" stroke-opacity="0.7"/><rect x="429.69" y="213.2" width="4.2" height="4.5" fill="#e8190f"/><path d="M437.06 196.8V215" stroke="#e8190f" stroke-width="1" stroke-opacity="0.7"/><rect x="434.96" y="204.6" width="4.2" height="8.6" fill="#e8190f"/><path d="M442.33 200.7V206" stroke="#e8190f" stroke-width="1" stroke-opacity="0.7"/><rect x="440.23" y="202.5" width="4.2" height="1.8" fill="#e8190f"/><path d="M447.6 202V217.7" stroke="#1a5fd8" stroke-width="1" stroke-opacity="0.7"/><rect x="445.5" y="202.9" width="4.2" height="10.3" fill="#1a5fd8"/><path d="M452.87 205.2V215" stroke="#e8190f" stroke-width="1" stroke-opacity="0.7"/><rect x="450.76" y="206.4" width="4.2" height="8.2" fill="#e8190f"/><path d="M458.13 207V216.8" stroke="#1a5fd8" stroke-width="1" stroke-opacity="0.7"/><rect x="456.03" y="207.5" width="4.2" height="4.8" fill="#1a5fd8"/><path d="M463.4 207.9V216.8" stroke="#1a5fd8" stroke-width="1" stroke-opacity="0.7"/><rect x="461.3" y="212.9" width="4.2" height="3" fill="#1a5fd8"/><path d="M468.67 213.2V220.4" stroke="#e8190f" stroke-width="1" stroke-opacity="0.7"/><rect x="466.57" y="214" width="4.2" height="1.9" fill="#e8190f"/><path d="M473.94 211.4V217.7" stroke="#1a5fd8" stroke-width="1" stroke-opacity="0.7"/><rect x="471.84" y="213.2" width="4.2" height="3.2" fill="#1a5fd8"/><path d="M479.21 201.3V220" stroke="#1a5fd8" stroke-width="1" stroke-opacity="0.7"/><rect x="477.11" y="212.6" width="4.2" height="1.3" fill="#1a5fd8"/><path d="M484.48 187.5V213.3" stroke="#1a5fd8" stroke-width="1" stroke-opacity="0.7"/><rect x="482.38" y="202.9" width="4.2" height="2" fill="#1a5fd8"/><path d="M489.75 203.3V217.2" stroke="#1a5fd8" stroke-width="1" stroke-opacity="0.7"/><rect x="487.65" y="205.3" width="4.2" height="10.9" fill="#1a5fd8"/><path d="M495.02 206.3V214.2" stroke="#e8190f" stroke-width="1" stroke-opacity="0.7"/><rect x="492.92" y="208.3" width="4.2" height="5" fill="#e8190f"/><path d="M500.29 198.4V212.3" stroke="#e8190f" stroke-width="1" stroke-opacity="0.7"/><rect x="498.19" y="208.3" width="4.2" height="3" fill="#e8190f"/><path d="M505.56 190.4V201.3" stroke="#e8190f" stroke-width="1" stroke-opacity="0.7"/><rect x="503.45" y="193" width="4.2" height="5.4" fill="#e8190f"/><path d="M510.82 173.6V194.4" stroke="#e8190f" stroke-width="1" stroke-opacity="0.7"/><rect x="508.72" y="181.5" width="4.2" height="9.5" fill="#e8190f"/><path d="M516.09 159.7V176.5" stroke="#1a5fd8" stroke-width="1" stroke-opacity="0.7"/><rect x="513.99" y="172" width="4.2" height="1.6" fill="#1a5fd8"/><path d="M521.36 152.7V168.6" stroke="#e8190f" stroke-width="1" stroke-opacity="0.7"/><rect x="519.26" y="162" width="4.2" height="4.6" fill="#e8190f"/><path d="M526.63 143.8V160.7" stroke="#e8190f" stroke-width="1" stroke-opacity="0.7"/><rect x="524.53" y="146.8" width="4.2" height="5.9" fill="#e8190f"/><path d="M531.9 142.8V154.7" stroke="#1a5fd8" stroke-width="1" stroke-opacity="0.7"/><rect x="529.8" y="144.8" width="4.2" height="5" fill="#1a5fd8"/><path d="M537.17 131.9V159.7" stroke="#e8190f" stroke-width="1" stroke-opacity="0.7"/><rect x="535.07" y="133.5" width="4.2" height="16.3" fill="#e8190f"/><path d="M542.44 121V139.8" stroke="#e8190f" stroke-width="1" stroke-opacity="0.7"/><rect x="540.34" y="131.5" width="4.2" height="2.8" fill="#e8190f"/><path d="M547.71 117V129.6" stroke="#e8190f" stroke-width="1" stroke-opacity="0.7"/><rect x="545.61" y="126.2" width="4.2" height="2" fill="#e8190f"/><path d="M552.98 119.6V136.5" stroke="#1a5fd8" stroke-width="1" stroke-opacity="0.7"/><rect x="550.88" y="121.6" width="4.2" height="10.9" fill="#1a5fd8"/><path d="M558.25 111.7V134.5" stroke="#e8190f" stroke-width="1" stroke-opacity="0.7"/><rect x="556.14" y="121.6" width="4.2" height="9" fill="#e8190f"/><path d="M563.51 87.9V131.5" stroke="#1a5fd8" stroke-width="1" stroke-opacity="0.7"/><rect x="561.41" y="114.3" width="4.2" height="6.3" fill="#1a5fd8"/><path d="M568.78 107.7V135.5" stroke="#e8190f" stroke-width="1" stroke-opacity="0.7"/><rect x="566.68" y="117" width="4.2" height="6.6" fill="#e8190f"/><path d="M574.05 102.8V117.7" stroke="#e8190f" stroke-width="1" stroke-opacity="0.7"/><rect x="571.95" y="105.75" width="4.2" height="3.95" fill="#e8190f"/><path d="M579.32 103.8V122.6" stroke="#1a5fd8" stroke-width="1" stroke-opacity="0.7"/><rect x="577.22" y="110.3" width="4.2" height="4" fill="#1a5fd8"/><path d="M584.59 107.7V119.6" stroke="#e8190f" stroke-width="1" stroke-opacity="0.7"/><rect x="582.49" y="110.7" width="4.2" height="8" fill="#e8190f"/><path d="M589.86 94.8V113.7" stroke="#e8190f" stroke-width="1" stroke-opacity="0.7"/><rect x="587.76" y="103.8" width="4.2" height="7.9" fill="#e8190f"/><path d="M595.13 106.7V135.5" stroke="#1a5fd8" stroke-width="1" stroke-opacity="0.7"/><rect x="593.03" y="107.7" width="4.2" height="24.8" fill="#1a5fd8"/><path d="M600.4 132.5V151.4" stroke="#1a5fd8" stroke-width="1" stroke-opacity="0.7"/><rect x="598.3" y="133.45" width="4.2" height="1.3" fill="#1a5fd8"/><path d="M605.67 131.5V143.5" stroke="#e8190f" stroke-width="1" stroke-opacity="0.7"/><rect x="603.57" y="136.5" width="4.2" height="1.5" fill="#e8190f"/><path d="M610.94 129.6V146.4" stroke="#e8190f" stroke-width="1" stroke-opacity="0.7"/><rect x="608.84" y="134.5" width="4.2" height="7" fill="#e8190f"/><path d="M616.2 125.6V140.5" stroke="#e8190f" stroke-width="1" stroke-opacity="0.7"/><rect x="614.1" y="133" width="4.2" height="2" fill="#e8190f"/><path d="M621.47 125.6V140.5" stroke="#e8190f" stroke-width="1" stroke-opacity="0.7"/><rect x="619.37" y="128.6" width="4.2" height="3.9" fill="#e8190f"/><path d="M626.74 131.5V155.4" stroke="#1a5fd8" stroke-width="1" stroke-opacity="0.7"/><rect x="624.64" y="133" width="4.2" height="20.4" fill="#1a5fd8"/><path d="M632.01 142.5V157.3" stroke="#e8190f" stroke-width="1" stroke-opacity="0.7"/><rect x="629.91" y="148.4" width="4.2" height="7" fill="#e8190f"/><path d="M637.28 137.5V156.3" stroke="#1a5fd8" stroke-width="1" stroke-opacity="0.7"/><rect x="635.18" y="140.5" width="4.2" height="10.9" fill="#1a5fd8"/><path d="M642.55 142.5V160.3" stroke="#1a5fd8" stroke-width="1" stroke-opacity="0.7"/><rect x="640.45" y="147.4" width="4.2" height="2.6" fill="#1a5fd8"/><path d="M647.82 135.5V153.4" stroke="#e8190f" stroke-width="1" stroke-opacity="0.7"/><rect x="645.72" y="139.5" width="4.2" height="8.9" fill="#e8190f"/><path d="M653.09 136.5V144.4" stroke="#1a5fd8" stroke-width="1" stroke-opacity="0.7"/><rect x="650.99" y="138.5" width="4.2" height="4" fill="#1a5fd8"/><path d="M658.36 140.5V146.4" stroke="#e8190f" stroke-width="1" stroke-opacity="0.7"/><rect x="656.26" y="142.5" width="4.2" height="2.3" fill="#e8190f"/><path d="M663.62 130.6V148.4" stroke="#e8190f" stroke-width="1" stroke-opacity="0.7"/><rect x="661.52" y="135.5" width="4.2" height="11.9" fill="#e8190f"/><path d="M668.89 115.7V132.5" stroke="#e8190f" stroke-width="1" stroke-opacity="0.7"/><rect x="666.79" y="120.2" width="4.2" height="10.4" fill="#e8190f"/><path d="M674.16 121.6V136.5" stroke="#1a5fd8" stroke-width="1" stroke-opacity="0.7"/><rect x="672.06" y="122.6" width="4.2" height="11.9" fill="#1a5fd8"/><path d="M679.43 125.6V136.5" stroke="#e8190f" stroke-width="1" stroke-opacity="0.7"/><rect x="677.33" y="127" width="4.2" height="7.5" fill="#e8190f"/><path d="M684.7 110.7V127.6" stroke="#e8190f" stroke-width="1" stroke-opacity="0.7"/><rect x="682.6" y="111.7" width="4.2" height="14.5" fill="#e8190f"/><path d="M689.97 108.7V121.6" stroke="#1a5fd8" stroke-width="1" stroke-opacity="0.7"/><rect x="687.87" y="113.7" width="4.2" height="2" fill="#1a5fd8"/><path d="M695.24 96.8V119.6" stroke="#e8190f" stroke-width="1" stroke-opacity="0.7"/><rect x="693.14" y="100.8" width="4.2" height="16.9" fill="#e8190f"/><path d="M700.51 85.6V100.8" stroke="#e8190f" stroke-width="1" stroke-opacity="0.7"/><rect x="698.41" y="91.9" width="4.2" height="7.9" fill="#e8190f"/><path d="M705.78 92.9V101.8" stroke="#1a5fd8" stroke-width="1" stroke-opacity="0.7"/><rect x="703.68" y="94.8" width="4.2" height="3" fill="#1a5fd8"/><path d="M711.05 95.8V113.7" stroke="#1a5fd8" stroke-width="1" stroke-opacity="0.7"/><rect x="708.95" y="98.4" width="4.2" height="14.3" fill="#1a5fd8"/><path d="M716.32 115.7V141.5" stroke="#1a5fd8" stroke-width="1" stroke-opacity="0.7"/><rect x="714.22" y="116.7" width="4.2" height="20.8" fill="#1a5fd8"/><path d="M721.58 132.5V142.5" stroke="#e8190f" stroke-width="1" stroke-opacity="0.7"/><rect x="719.48" y="138" width="4.2" height="2.5" fill="#e8190f"/><path d="M726.85 125.6V138.5" stroke="#e8190f" stroke-width="1" stroke-opacity="0.7"/><rect x="724.75" y="128.6" width="4.2" height="8.9" fill="#e8190f"/><path d="M732.12 125.6V138.5" stroke="#1a5fd8" stroke-width="1" stroke-opacity="0.7"/><rect x="730.02" y="126.2" width="4.2" height="9.3" fill="#1a5fd8"/><path d="M737.39 121.6V134.5" stroke="#e8190f" stroke-width="1" stroke-opacity="0.7"/><rect x="735.29" y="124.2" width="4.2" height="2.8" fill="#e8190f"/><path d="M742.66 118.7V135.5" stroke="#1a5fd8" stroke-width="1" stroke-opacity="0.7"/><rect x="740.56" y="125" width="4.2" height="9.5" fill="#1a5fd8"/><path d="M747.93 120.6V137.5" stroke="#e8190f" stroke-width="1" stroke-opacity="0.7"/><rect x="745.83" y="122.6" width="4.2" height="9.9" fill="#e8190f"/><path d="M753.2 121.6V137.5" stroke="#1a5fd8" stroke-width="1" stroke-opacity="0.7"/><rect x="751.1" y="122.2" width="4.2" height="10.3" fill="#1a5fd8"/><path d="M758.47 119.6V134.5" stroke="#e8190f" stroke-width="1" stroke-opacity="0.7"/><rect x="756.37" y="120.2" width="4.2" height="12.7" fill="#e8190f"/><path d="M763.74 110.7V122.6" stroke="#e8190f" stroke-width="1" stroke-opacity="0.7"/><rect x="761.64" y="112.7" width="4.2" height="7.9" fill="#e8190f"/><path d="M769 106.6V152.3" stroke="#1a5fd8" stroke-width="1" stroke-opacity="0.7"/><rect x="766.9" y="110.6" width="4.2" height="32.7" fill="#1a5fd8"/><path d="M774.27 139.4V151.3" stroke="#e8190f" stroke-width="1" stroke-opacity="0.7"/><rect x="772.17" y="141.3" width="4.2" height="8" fill="#e8190f"/><path d="M779.54 135.4V147.3" stroke="#1a5fd8" stroke-width="1" stroke-opacity="0.7"/><rect x="777.44" y="140.2" width="4.2" height="1.3" fill="#1a5fd8"/><path d="M784.81 127.4V141.3" stroke="#e8190f" stroke-width="1" stroke-opacity="0.7"/><rect x="782.71" y="129.4" width="4.2" height="10" fill="#e8190f"/><path d="M790.08 134.4V148.3" stroke="#1a5fd8" stroke-width="1" stroke-opacity="0.7"/><rect x="787.98" y="135.4" width="4.2" height="10.9" fill="#1a5fd8"/><path d="M795.35 130.4V146.3" stroke="#e8190f" stroke-width="1" stroke-opacity="0.7"/><rect x="793.25" y="131.4" width="4.2" height="13.9" fill="#e8190f"/><path d="M800.62 131.4V142.3" stroke="#1a5fd8" stroke-width="1" stroke-opacity="0.7"/><rect x="798.52" y="132.4" width="4.2" height="8.9" fill="#1a5fd8"/><path d="M805.89 132.4V144.3" stroke="#e8190f" stroke-width="1" stroke-opacity="0.7"/><rect x="803.79" y="133.4" width="4.2" height="6" fill="#e8190f"/><path d="M811.16 118.6V136.5" stroke="#e8190f" stroke-width="1" stroke-opacity="0.7"/><rect x="809.06" y="123.1" width="4.2" height="11.9" fill="#e8190f"/><polyline points="0,433.3 5,443.9 10.3,439.2 15.3,461.1 20.8,452.2 25.8,442.5 31.1,443.9 36.1,427.8 41.7,429.4 46.4,431.9 51.9,418.1 57.5,423.6 62.5,416.7 68,410 73.6,391.1 79.2,375 83.9,384.2 88.9,365.6 94.4,400.8 99.4,406.4 105,400.8 110.3,405.6 115.8,430 120.8,445.3 126.4,447.5 131.1,445.3 136.1,415.3 141.7,423.6 146.7,422.2 152.2,416.7 157.8,421.7 162.5,420.3 168,410.6 173,412.5 178.6,398.1 183.9,405 188.9,413.3 193.9,412.5 199.4,433.3 205,428.6 210.3,428.6 215.3,440.3 220.8,442 226.4,446.1 231.4,452.8 236.7,432.8 241.7,446.7 247.2,461.4 252.2,450.8 257.5,445.3 262.5,448.9 268,445.3 273.6,450.3 279.2,446.7 283.9,443.9 288.9,436.4 294.4,418.9 300,406.4 305,405 310.6,418.3 315.8,425 320.8,419.7 326.4,420.3 332,423.9 337.5,431.4 341.7,433.6 346.7,450.8 352.2,452.8 357.5,446.1 363,439.2 368,428.6 373.6,431.9 379.2,435 383.9,424.4 389.4,431.9 395,428.6 400,429.4 405,420.5 410,393.9 415.6,373.9 420.8,366.9 425.8,360 431.4,358.6 436.4,350 442,353 447.2,373 452.8,369.7 458.3,384.2 463.3,393.3 468.3,396.7 473.6,402.8 478.6,407.2 484.2,397.2 489.7,416.9 494.7,411.1 500,414.2 505,396.7 510,386.4 515.6,378.6 521.1,368.3 526.7,352.8 531.9,361.4 537.5,344.4 542.5,346.1 547.5,345.3 553,360 558.3,350.8 563.9,356.9 568.3,358.3 573.6,351.7 579.2,370.3 584.2,372.2 589.2,369.7 594.7,417.5 600,424.4 605,432.2 610,433.3 615.6,434.7 621.1,431.4 626.7,463.9 631.7,460 637.2,460.6 642.5,460 647.5,446.7 653,448.9 658,449.4 663.3,436.9 668.3,416.7 673.9,433.3 679.4,421.7 684.4,402.2 689.7,406.4 694.7,389.2 700.3,378.1 705.8,388.3 710.6,407.8 715.6,442.5 721.1,444.4 726.7,431.4 732.2,441.1 737.2,428.1 742.5,441.1 747.5,429.4 753,442.5 758.6,426.7 763.6,420.3 769.2,459.2 774.4,457.2 779.4,456.4 785,439.7 790,458.6 795.3,439.7 800.8,448.6 805.8,434.2 810.6,420.3" fill="none" stroke="#86d0a2" stroke-width="1.3" stroke-linejoin="round"/></svg>
<div class="a" style="left:4.8px;top:64px;width:17px;height:9.7px;background:#e6e6e6;"></div>
<div class="t" style="left:6.5px;top:65px;font-size:9px;color:#666;transform:scaleX(0.85);">Gold</div>
<div class="t" style="left:23px;top:65px;font-size:9px;color:#777;">=</div>
<div class="k" style="left:29.6px;top:64.6px;width:15px;font-size:8.5px;color:#e860c8;">종가</div>
<div class="k" style="left:46px;top:64.6px;width:14.5px;font-size:8.5px;color:#e860c8;">단순</div>
<div class="t" style="left:62.3px;top:65px;font-size:9px;color:#e860c8;transform:scaleX(0.85);">5</div>
<div class="t" style="left:70.7px;top:65px;font-size:9px;color:#5a78d8;transform:scaleX(0.85);">10</div>
<div class="t" style="left:82.6px;top:65px;font-size:9px;color:#f0aa30;transform:scaleX(0.85);">20</div>
<div class="t" style="left:93.4px;top:65px;font-size:9px;color:#48b068;transform:scaleX(0.85);">60</div>
<div class="t" style="left:104px;top:65px;font-size:9px;color:#222;transform:scaleX(0.85);">200</div>
<div class="a" style="left:1px;top:75px;width:7px;height:8.7px;background:#d0d0d0;border:1px solid #a8a8a8"></div>
<div class="k" style="left:629.8px;top:73.5px;width:14px;font-size:8.5px;color:#e83a3a;">최고</div>
<div class="t" style="left:645.6px;top:73.9px;font-size:8.5px;color:#e83a3a;transform:scaleX(0.82);">2454.2 (05/20)</div>
<div class="a" style="left:692.3px;top:76.6px;width:8.7px;height:1px;background:#e83a3a;"></div>
<div class="a" style="left:700.3px;top:76.6px;width:1px;height:4px;background:#e83a3a;"></div>
<div class="a" style="left:698.3px;top:80px;width:0;height:0;border-top:3px solid #e83a3a;border-left:2.5px solid transparent;border-right:2.5px solid transparent"></div>
<div class="a" style="left:18px;top:317px;width:0;height:0;border-bottom:3px solid #2050d0;border-left:2.5px solid transparent;border-right:2.5px solid transparent"></div>
<div class="a" style="left:20px;top:320px;width:1px;height:5px;background:#2050d0;"></div>
<div class="a" style="left:20px;top:324px;width:7px;height:1px;background:#2050d0;"></div>
<div class="k" style="left:29.4px;top:319px;width:14px;font-size:8.5px;color:#2050d0;">최저</div>
<div class="t" style="left:46.1px;top:319.2px;font-size:8.5px;color:#2050d0;transform:scaleX(0.81);">1935.6 (11/13)</div>
<div class="k" style="left:1.6px;top:337.3px;width:21px;font-size:8.5px;color:#3aa860;">이격도</div>
<div class="t" style="left:23.4px;top:336.8px;font-size:8.5px;color:#3aa860;transform:scaleX(0.85);">20</div>
<div class="t" style="left:815px;top:65px;font-size:8.5px;color:#e84848;transform:scaleX(0.9);">LC:22</div>
<div class="t" style="left:815px;top:72px;font-size:8.5px;color:#4a78d8;transform:scaleX(0.9);">HC:-3</div>
<div class="a" style="left:815.5px;top:87px;width:3px;height:1px;background:#666;"></div>
<div class="t" style="left:818.5px;top:83.5px;font-size:8px;color:#555;transform:scaleX(0.8);">2450</div>
<div class="a" style="left:815.5px;top:91px;width:1.5px;height:1px;background:#8a96a8;"></div>
<div class="a" style="left:815.5px;top:96px;width:1.5px;height:1px;background:#8a96a8;"></div>
<div class="a" style="left:815.5px;top:100px;width:1.5px;height:1px;background:#8a96a8;"></div>
<div class="a" style="left:815.5px;top:105px;width:1.5px;height:1px;background:#8a96a8;"></div>
<div class="a" style="left:815.5px;top:109px;width:3px;height:1px;background:#666;"></div>
<div class="t" style="left:818.5px;top:105.5px;font-size:8px;color:#555;transform:scaleX(0.8);">2400</div>
<div class="a" style="left:815.5px;top:114px;width:1.5px;height:1px;background:#8a96a8;"></div>
<div class="a" style="left:815.5px;top:118px;width:1.5px;height:1px;background:#8a96a8;"></div>
<div class="a" style="left:815.5px;top:122px;width:1.5px;height:1px;background:#8a96a8;"></div>
<div class="a" style="left:815.5px;top:127px;width:1.5px;height:1px;background:#8a96a8;"></div>
<div class="a" style="left:815.5px;top:131px;width:3px;height:1px;background:#666;"></div>
<div class="a" style="left:815.5px;top:136px;width:1.5px;height:1px;background:#8a96a8;"></div>
<div class="a" style="left:815.5px;top:140px;width:1.5px;height:1px;background:#8a96a8;"></div>
<div class="a" style="left:815.5px;top:145px;width:1.5px;height:1px;background:#8a96a8;"></div>
<div class="a" style="left:815.5px;top:149px;width:1.5px;height:1px;background:#8a96a8;"></div>
<div class="a" style="left:815.5px;top:154px;width:3px;height:1px;background:#666;"></div>
<div class="t" style="left:818.5px;top:150.5px;font-size:8px;color:#555;transform:scaleX(0.8);">2300</div>
<div class="a" style="left:815.5px;top:158px;width:1.5px;height:1px;background:#8a96a8;"></div>
<div class="a" style="left:815.5px;top:163px;width:1.5px;height:1px;background:#8a96a8;"></div>
<div class="a" style="left:815.5px;top:167px;width:1.5px;height:1px;background:#8a96a8;"></div>
<div class="a" style="left:815.5px;top:171px;width:1.5px;height:1px;background:#8a96a8;"></div>
<div class="a" style="left:815.5px;top:176px;width:3px;height:1px;background:#666;"></div>
<div class="t" style="left:818.5px;top:172.5px;font-size:8px;color:#555;transform:scaleX(0.8);">2250</div>
<div class="a" style="left:815.5px;top:180px;width:1.5px;height:1px;background:#8a96a8;"></div>
<div class="a" style="left:815.5px;top:185px;width:1.5px;height:1px;background:#8a96a8;"></div>
<div class="a" style="left:815.5px;top:189px;width:1.5px;height:1px;background:#8a96a8;"></div>
<div class="a" style="left:815.5px;top:194px;width:1.5px;height:1px;background:#8a96a8;"></div>
<div class="a" style="left:815.5px;top:198px;width:3px;height:1px;background:#666;"></div>
<div class="t" style="left:818.5px;top:194.5px;font-size:8px;color:#555;transform:scaleX(0.8);">2200</div>
<div class="a" style="left:815.5px;top:203px;width:1.5px;height:1px;background:#8a96a8;"></div>
<div class="a" style="left:815.5px;top:207px;width:1.5px;height:1px;background:#8a96a8;"></div>
<div class="a" style="left:815.5px;top:211px;width:1.5px;height:1px;background:#8a96a8;"></div>
<div class="a" style="left:815.5px;top:216px;width:1.5px;height:1px;background:#8a96a8;"></div>
<div class="a" style="left:815.5px;top:220px;width:3px;height:1px;background:#666;"></div>
<div class="t" style="left:818.5px;top:216.5px;font-size:8px;color:#555;transform:scaleX(0.8);">2150</div>
<div class="a" style="left:815.5px;top:225px;width:1.5px;height:1px;background:#8a96a8;"></div>
<div class="a" style="left:815.5px;top:229px;width:1.5px;height:1px;background:#8a96a8;"></div>
<div class="a" style="left:815.5px;top:234px;width:1.5px;height:1px;background:#8a96a8;"></div>
<div class="a" style="left:815.5px;top:238px;width:1.5px;height:1px;background:#8a96a8;"></div>
<div class="a" style="left:815.5px;top:243px;width:3px;height:1px;background:#666;"></div>
<div class="t" style="left:818.5px;top:239.5px;font-size:8px;color:#555;transform:scaleX(0.8);">2100</div>
<div class="a" style="left:815.5px;top:247px;width:1.5px;height:1px;background:#8a96a8;"></div>
<div class="a" style="left:815.5px;top:251px;width:1.5px;height:1px;background:#8a96a8;"></div>
<div class="a" style="left:815.5px;top:256px;width:1.5px;height:1px;background:#8a96a8;"></div>
<div class="a" style="left:815.5px;top:260px;width:1.5px;height:1px;background:#8a96a8;"></div>
<div class="a" style="left:815.5px;top:265px;width:3px;height:1px;background:#666;"></div>
<div class="t" style="left:818.5px;top:261.5px;font-size:8px;color:#555;transform:scaleX(0.8);">2050</div>
<div class="a" style="left:815.5px;top:269px;width:1.5px;height:1px;background:#8a96a8;"></div>
<div class="a" style="left:815.5px;top:274px;width:1.5px;height:1px;background:#8a96a8;"></div>
<div class="a" style="left:815.5px;top:278px;width:1.5px;height:1px;background:#8a96a8;"></div>
<div class="a" style="left:815.5px;top:283px;width:1.5px;height:1px;background:#8a96a8;"></div>
<div class="a" style="left:815.5px;top:287px;width:3px;height:1px;background:#666;"></div>
<div class="t" style="left:818.5px;top:283.5px;font-size:8px;color:#555;transform:scaleX(0.8);">2000</div>
<div class="a" style="left:815.5px;top:292px;width:1.5px;height:1px;background:#8a96a8;"></div>
<div class="a" style="left:815.5px;top:296px;width:1.5px;height:1px;background:#8a96a8;"></div>
<div class="a" style="left:815.5px;top:300px;width:1.5px;height:1px;background:#8a96a8;"></div>
<div class="a" style="left:815.5px;top:305px;width:1.5px;height:1px;background:#8a96a8;"></div>
<div class="a" style="left:815.5px;top:309px;width:3px;height:1px;background:#666;"></div>
<div class="t" style="left:818.5px;top:305.5px;font-size:8px;color:#555;transform:scaleX(0.8);">1950</div>
<div class="a" style="left:815.5px;top:314px;width:1.5px;height:1px;background:#8a96a8;"></div>
<div class="a" style="left:815.5px;top:318px;width:1.5px;height:1px;background:#8a96a8;"></div>
<div class="a" style="left:815.5px;top:323px;width:1.5px;height:1px;background:#8a96a8;"></div>
<div class="a" style="left:815.5px;top:327px;width:1.5px;height:1px;background:#8a96a8;"></div>
<div class="a" style="left:815.5px;top:82px;width:1.5px;height:1px;background:#8a96a8;"></div>
<div class="a" style="left:815.5px;top:78px;width:1.5px;height:1px;background:#8a96a8;"></div>
<div class="a" style="left:815.5px;top:74px;width:1.5px;height:1px;background:#8a96a8;"></div>
<div class="a" style="left:815.5px;top:69px;width:1.5px;height:1px;background:#8a96a8;"></div>
<div class="a" style="left:815.5px;top:460px;width:3px;height:1px;background:#666;"></div>
<div class="t" style="left:818.5px;top:456.5px;font-size:8px;color:#555;transform:scaleX(0.8);">98.0</div>
<div class="a" style="left:815.5px;top:446px;width:3px;height:1px;background:#666;"></div>
<div class="t" style="left:818.5px;top:442.5px;font-size:8px;color:#555;transform:scaleX(0.8);">99.0</div>
<div class="a" style="left:815.5px;top:432px;width:3px;height:1px;background:#666;"></div>
<div class="t" style="left:818.5px;top:428.5px;font-size:8px;color:#555;transform:scaleX(0.8);">100.0</div>
<div class="a" style="left:815.5px;top:417px;width:3px;height:1px;background:#666;"></div>
<div class="t" style="left:818.5px;top:413.5px;font-size:8px;color:#555;transform:scaleX(0.8);">101.0</div>
<div class="a" style="left:815.5px;top:403px;width:3px;height:1px;background:#666;"></div>
<div class="t" style="left:818.5px;top:399.5px;font-size:8px;color:#555;transform:scaleX(0.8);">102.0</div>
<div class="a" style="left:815.5px;top:389px;width:3px;height:1px;background:#666;"></div>
<div class="t" style="left:818.5px;top:385.5px;font-size:8px;color:#555;transform:scaleX(0.8);">103.0</div>
<div class="a" style="left:815.5px;top:374px;width:3px;height:1px;background:#666;"></div>
<div class="t" style="left:818.5px;top:370.5px;font-size:8px;color:#555;transform:scaleX(0.8);">104.0</div>
<div class="a" style="left:815.5px;top:360px;width:3px;height:1px;background:#666;"></div>
<div class="t" style="left:818.5px;top:356.5px;font-size:8px;color:#555;transform:scaleX(0.8);">105.0</div>
<div class="a" style="left:815.5px;top:346px;width:3px;height:1px;background:#666;"></div>
<div class="t" style="left:818.5px;top:342.5px;font-size:8px;color:#555;transform:scaleX(0.8);">106.0</div>
<div class="a" style="left:817px;top:119px;width:17px;height:7.7px;background:#e42020;"></div>
<div class="t" style="left:818.5px;top:119.3px;font-size:8px;color:#fff;transform:scaleX(0.8);">2359</div>
<div class="t" style="left:818.5px;top:128px;font-size:7.5px;color:#e84848;transform:scaleX(0.8);">0.94%</div>
<div class="a" style="left:814.5px;top:467px;width:20.5px;height:1px;background:#b8c4d4;"></div>
<div class="a" style="left:0px;top:467.5px;width:835px;height:10.8px;background:#d6e1ef;"></div>
<div class="a" style="left:0px;top:467.5px;width:835px;height:1px;background:#b6c0ce;"></div>
<div class="a" style="left:0px;top:477.5px;width:835px;height:1px;background:#c4ccd8;"></div>
<div class="a" style="left:1px;top:468px;width:1px;height:10px;background:#b4bfcd;"></div>
<div class="t" style="left:2px;top:469.3px;font-size:9px;color:#555;transform:scaleX(0.8);">023/11</div>
<div class="a" style="left:86.5px;top:468px;width:1px;height:10px;background:#b4bfcd;"></div>
<div class="t" style="left:87.5px;top:469.3px;font-size:9px;color:#555;transform:scaleX(0.8);">12</div>
<div class="a" style="left:191.7px;top:468px;width:1px;height:10px;background:#b4bfcd;"></div>
<div class="t" style="left:192.7px;top:469.3px;font-size:9px;color:#555;transform:scaleX(0.8);">2024/01</div>
<div class="a" style="left:302.7px;top:468px;width:1px;height:10px;background:#b4bfcd;"></div>
<div class="t" style="left:303.7px;top:469.3px;font-size:9px;color:#555;transform:scaleX(0.8);">02</div>
<div class="a" style="left:407.8px;top:468px;width:1px;height:10px;background:#b4bfcd;"></div>
<div class="t" style="left:408.8px;top:469.3px;font-size:9px;color:#555;transform:scaleX(0.8);">03</div>
<div class="a" style="left:512.9px;top:468px;width:1px;height:10px;background:#b4bfcd;"></div>
<div class="t" style="left:513.9px;top:469.3px;font-size:9px;color:#555;transform:scaleX(0.8);">04</div>
<div class="a" style="left:628.9px;top:468px;width:1px;height:10px;background:#b4bfcd;"></div>
<div class="t" style="left:629.9px;top:469.3px;font-size:9px;color:#555;transform:scaleX(0.8);">05</div>
<div class="a" style="left:745px;top:468px;width:1px;height:10px;background:#b4bfcd;"></div>
<div class="t" style="left:746px;top:469.3px;font-size:9px;color:#555;transform:scaleX(0.8);">06</div>
<div class="a" style="left:814.5px;top:468px;width:1px;height:10px;background:#b4bfcd;"></div>
<div class="t" style="left:815.5px;top:469.3px;font-size:9px;color:#555;transform:scaleX(0.8);">06/2</div>
<div class="a" style="left:0px;top:478px;width:835px;height:12px;background:#efeff0;"></div>
<div class="a" style="left:1px;top:479px;width:5px;height:11px;background:#f7f7f7;border:1px solid #b8b8b8"></div>
<div class="a" style="left:6px;top:479px;width:181px;height:10px;background:#ececec;"></div>
<div class="a" style="left:187px;top:479px;width:163px;height:10px;background:#ebebeb;border-right:1px solid #8c8c8c;border-bottom:1px solid #8c8c8c;border-left:1px solid #fff;border-top:1px solid #fff"></div>
<div class="a" style="left:350px;top:479px;width:285px;height:10px;background:#fcfcfc;"></div>
<div class="a" style="left:0px;top:490px;width:835px;height:1px;background:#a6a6a8;"></div>
<div class="a" style="left:0px;top:491px;width:835px;height:1px;background:#c4c4c6;"></div>
<svg class="a" style="left:638px;top:479px" width="196" height="12" viewBox="0 0 196 12"><rect x="1" y="0.5" width="9" height="10" fill="#f2f2f2" stroke="#c8c8c8"/><path d="M4 3v5l3.5-2.5z" fill="#111"/><rect x="10" y="0.5" width="9.5" height="10" fill="#f2f2f2" stroke="#c8c8c8"/><path d="M12 5.5l3-2.5v5zM15 5.5l3-2.5v5z" fill="#111"/><rect x="19.5" y="0.5" width="9.5" height="10" fill="#f2f2f2" stroke="#c8c8c8"/><rect x="22" y="3" width="4.5" height="5" fill="#111"/><rect x="29" y="0.5" width="9.5" height="10" fill="#f2f2f2" stroke="#c8c8c8"/><path d="M31 3v5l3-2.5zM34 3v5l3-2.5z" fill="#111"/><path d="M43 2.5h40" stroke="#aaa" stroke-width="1.2"/><path d="M54 1v5" stroke="#888"/><path d="M43 8.5h40" stroke="#777" stroke-width="1.6" stroke-dasharray="1 3.5"/><g fill="none" stroke="#999" stroke-width="0.9"><rect x="89" y="3" width="6" height="6"/><rect x="98" y="2" width="6" height="6"/><path d="M107 4h6M107 7h6"/><path d="M117 2l4 7M116 3h5"/><path d="M126 3h6l-3 5"/><path d="M136 2v7l3-4 2 3"/><path d="M145 9l4-6 2 3"/><rect x="154" y="3" width="6" height="5"/><rect x="163" y="2" width="6" height="7"/><circle cx="175" cy="5" r="2.5"/><path d="M177 7l2 2"/></g><path d="M184 6h6" stroke="#777" stroke-width="1.5"/></svg>
<div class="a" style="left:0px;top:492px;width:835px;height:10px;background:#3c4048;"></div>
<div class="a" style="left:1px;top:492px;width:139px;height:10px;background:#fbfbfb;"></div>
<div class="a" style="left:2px;top:492px;width:3px;height:10px;background:#e8190f;"></div>
<div class="a" style="left:6px;top:492px;width:3px;height:10px;background:#e8190f;"></div>
<div class="a" style="left:11px;top:492px;width:3px;height:10px;background:#e8190f;"></div>
<div class="a" style="left:16px;top:492px;width:3px;height:10px;background:#1a5fd8;"></div>
<div class="a" style="left:20px;top:492px;width:3px;height:10px;background:#e8190f;"></div>
<div class="a" style="left:25px;top:492px;width:3px;height:10px;background:#1a5fd8;"></div>
<div class="a" style="left:30px;top:492px;width:3px;height:10px;background:#e8190f;"></div>
<div class="a" style="left:34px;top:492px;width:3px;height:10px;background:#1a5fd8;"></div>
<div class="a" style="left:39px;top:492px;width:3px;height:10px;background:#e8190f;"></div>
<div class="a" style="left:43px;top:495px;width:3px;height:7px;background:#1a5fd8;"></div>
<div class="a" style="left:48px;top:492px;width:3px;height:10px;background:#e8190f;"></div>
<div class="a" style="left:53px;top:492px;width:3px;height:10px;background:#e8190f;"></div>
<div class="a" style="left:57px;top:493px;width:3px;height:9px;background:#1a5fd8;"></div>
<div class="a" style="left:62px;top:492px;width:3px;height:10px;background:#e8190f;"></div>
<div class="a" style="left:67px;top:495px;width:3px;height:7px;background:#1a5fd8;"></div>
<div class="a" style="left:71px;top:492px;width:3px;height:10px;background:#e8190f;"></div>
<div class="a" style="left:76px;top:492px;width:3px;height:10px;background:#e8190f;"></div>
<div class="a" style="left:80px;top:492px;width:3px;height:10px;background:#e8190f;"></div>
<div class="a" style="left:85px;top:492px;width:3px;height:10px;background:#1a5fd8;"></div>
<div class="a" style="left:90px;top:492px;width:3px;height:10px;background:#1a5fd8;"></div>
<div class="a" style="left:94px;top:492px;width:3px;height:10px;background:#e8190f;"></div>
<div class="a" style="left:99px;top:492px;width:3px;height:10px;background:#1a5fd8;"></div>
<div class="a" style="left:104px;top:492px;width:3px;height:10px;background:#1a5fd8;"></div>
<div class="a" style="left:108px;top:492px;width:3px;height:10px;background:#e8190f;"></div>
<div class="a" style="left:113px;top:492px;width:3px;height:10px;background:#1a5fd8;"></div>
<div class="a" style="left:117px;top:496px;width:3px;height:6px;background:#1a5fd8;"></div>
<div class="a" style="left:122px;top:492px;width:3px;height:10px;background:#e8190f;"></div>
<div class="a" style="left:127px;top:492px;width:3px;height:10px;background:#e8190f;"></div>
<div class="a" style="left:132px;top:492px;width:3px;height:10px;background:#e8190f;"></div>
<div class="a" style="left:136px;top:501px;width:3px;height:1px;background:#1a5fd8;"></div>
<svg class="a" style="left:1px;top:492px" width="138" height="10" viewBox="0 0 138 10"><path d="M0 5L14 0.5" stroke="#f0b030" stroke-width="0.9" fill="none"/><path d="M24 9.5L70 6.5L134 2" stroke="#40a060" stroke-width="0.9" fill="none"/></svg>
<div class="a" style="left:140px;top:492px;width:2px;height:10px;background:#c8c8ca;"></div>
<div class="a" style="left:142px;top:492px;width:36px;height:10px;background:#d8e0ee;"></div>
<div class="a" style="left:178px;top:492px;width:6px;height:10px;background:#e6e6e8;"></div>
<div class="a" style="left:143px;top:496px;width:34px;height:6px;background:#1c5cd8;"></div>
<div class="t" style="left:144.5px;top:494.8px;font-size:8.5px;color:#fff;transform:scaleX(0.8);">72.582</div>
<div class="a" style="left:0px;top:0px;width:835px;height:1px;background:#ff0000;"></div>
<div class="a" style="left:0px;top:0px;width:1.2px;height:504px;background:#ff0000;"></div>
<div class="a" style="left:833.7px;top:0px;width:1.3px;height:504px;background:#ff0000;"></div>
<div class="a" style="left:0px;top:502px;width:835px;height:2px;background:#ff0000;"></div>
</body></html>
